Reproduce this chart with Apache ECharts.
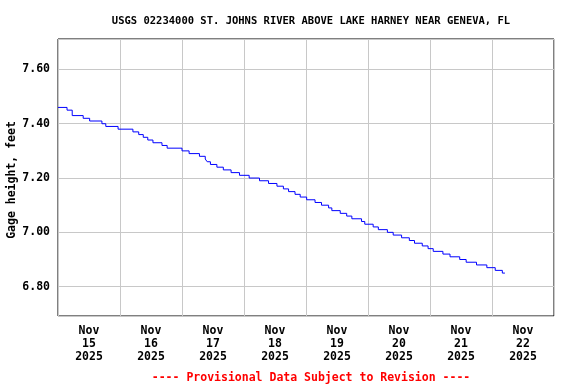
<!DOCTYPE html>
<html>
<head>
<meta charset="utf-8">
<script src="https://cdn.jsdelivr.net/npm/echarts@6/dist/echarts.min.js"></script>
<style>html,body{margin:0;padding:0;background:#fff}#c{width:576px;height:384px}</style>
</head>
<body>
<div id="c"></div>
<script>
const titleText = 'USGS 02234000 ST. JOHNS RIVER ABOVE LAKE HARNEY NEAR GENEVA, FL';
const footerText = '---- Provisional Data Subject to Revision ----';
const yAxisName = 'Gage height, feet';
const dayLabels = ['Nov\n15\n2025','Nov\n16\n2025','Nov\n17\n2025','Nov\n18\n2025','Nov\n19\n2025','Nov\n20\n2025','Nov\n21\n2025','Nov\n22\n2025'];
const xStart = '2025-11-15T00:00:00Z';
const xEnd = '2025-11-23T00:00:00Z';
const yMin = 6.692, yMax = 7.712;

// step transitions: time the value starts, gage height (ft)
const times = [
'2025-11-15T00:00:00Z','2025-11-15T03:30:00Z','2025-11-15T05:30:00Z','2025-11-15T09:45:00Z','2025-11-15T12:15:00Z',
'2025-11-15T17:00:00Z','2025-11-15T18:30:00Z','2025-11-15T23:15:00Z','2025-11-16T05:00:00Z','2025-11-16T07:15:00Z',
'2025-11-16T09:00:00Z','2025-11-16T10:45:00Z','2025-11-16T12:45:00Z','2025-11-16T16:15:00Z','2025-11-16T18:15:00Z',
'2025-11-17T00:00:00Z','2025-11-17T02:45:00Z','2025-11-17T06:45:00Z','2025-11-17T09:00:00Z','2025-11-17T09:45:00Z',
'2025-11-17T11:00:00Z','2025-11-17T13:30:00Z','2025-11-17T16:00:00Z','2025-11-17T19:00:00Z','2025-11-17T22:15:00Z',
'2025-11-18T02:00:00Z','2025-11-18T06:00:00Z','2025-11-18T09:30:00Z','2025-11-18T12:45:00Z','2025-11-18T15:15:00Z',
'2025-11-18T17:15:00Z','2025-11-18T19:45:00Z','2025-11-18T21:45:00Z','2025-11-19T00:15:00Z','2025-11-19T03:30:00Z',
'2025-11-19T06:00:00Z','2025-11-19T08:45:00Z','2025-11-19T10:00:00Z','2025-11-19T13:15:00Z','2025-11-19T15:45:00Z',
'2025-11-19T17:45:00Z','2025-11-19T21:30:00Z','2025-11-19T22:45:00Z','2025-11-20T02:00:00Z','2025-11-20T04:00:00Z',
'2025-11-20T07:30:00Z','2025-11-20T09:45:00Z','2025-11-20T13:00:00Z','2025-11-20T16:00:00Z','2025-11-20T18:00:00Z',
'2025-11-20T21:00:00Z','2025-11-20T23:15:00Z','2025-11-21T01:15:00Z','2025-11-21T05:00:00Z','2025-11-21T07:45:00Z',
'2025-11-21T11:30:00Z','2025-11-21T14:00:00Z','2025-11-21T18:00:00Z','2025-11-21T22:00:00Z','2025-11-22T01:15:00Z',
'2025-11-22T04:00:00Z','2025-11-22T05:00:00Z'
];
const heights = [
7.46,7.45,7.43,7.42,7.41,
7.40,7.39,7.38,7.37,7.36,
7.35,7.34,7.33,7.32,7.31,
7.30,7.29,7.28,7.27,7.26,
7.25,7.24,7.23,7.22,7.21,
7.20,7.19,7.18,7.17,7.16,
7.15,7.14,7.13,7.12,7.11,
7.10,7.09,7.08,7.07,7.06,
7.05,7.04,7.03,7.02,7.01,
7.00,6.99,6.98,6.97,6.96,
6.95,6.94,6.93,6.92,6.91,
6.90,6.89,6.88,6.87,6.86,
6.85,6.85
];

const FONT = 'DejaVu Sans Mono';
const DAY = 86400000;
const chart = echarts.init(document.getElementById('c'), null, {renderer: 'canvas'});
chart.setOption({
  backgroundColor: '#fff',
  animation: false,
  title: [
    {text: titleText, left: 306, top: 11, textAlign: 'center',
     textStyle: {fontFamily: FONT, fontWeight: 'bold', fontSize: 10.5, color: '#000'}},
    {text: footerText, left: 306, top: 367, textAlign: 'center',
     textStyle: {fontFamily: FONT, fontWeight: 'bold', fontSize: 11.5, color: '#ff0000'}}
  ],
  graphic: [{
    type: 'text', x: 12, y: 180, rotation: Math.PI / 2,
    style: {text: yAxisName, fontFamily: FONT, fontWeight: 'bold', fontSize: 11.5, fill: '#000',
            align: 'center', verticalAlign: 'middle'}
  }],
  grid: {left: 58, right: 22, top: 39, bottom: 68, show: true, borderColor: '#000', borderWidth: 1,
         backgroundColor: '#fff', containLabel: false, outerBoundsMode: 'none'},
  xAxis: [
    {type: 'value', min: Date.parse(xStart), max: Date.parse(xEnd), interval: DAY,
     axisLine: {show: false}, axisTick: {show: false}, axisLabel: {show: false},
     splitLine: {show: true, lineStyle: {color: '#c8c8c8', width: 1}}},
    {type: 'category', data: dayLabels, position: 'bottom', boundaryGap: true,
     axisLine: {show: false}, axisTick: {show: false}, splitLine: {show: false},
     axisLabel: {margin: 8, fontFamily: FONT, fontWeight: 'bold', fontSize: 11.5, color: '#000', lineHeight: 13.3, interval: 0}}
  ],
  yAxis: {
    type: 'value', min: yMin, max: yMax, splitNumber: 5, minInterval: 0.2, maxInterval: 0.2,
    axisLine: {show: false}, axisTick: {show: false},
    axisLabel: {margin: 8, fontFamily: FONT, fontWeight: 'bold', fontSize: 11.5, color: '#000',
      showMinLabel: false, showMaxLabel: false, formatter: v => v.toFixed(2)},
    splitLine: {show: true, lineStyle: {color: '#c8c8c8', width: 1}}
  },
  series: [{
    type: 'line', xAxisIndex: 0, step: 'end', symbol: 'none',
    lineStyle: {color: '#0000ff', width: 1},
    data: times.map((t, i) => [Date.parse(t), heights[i]])
  }]
});
</script>
</body>
</html>
